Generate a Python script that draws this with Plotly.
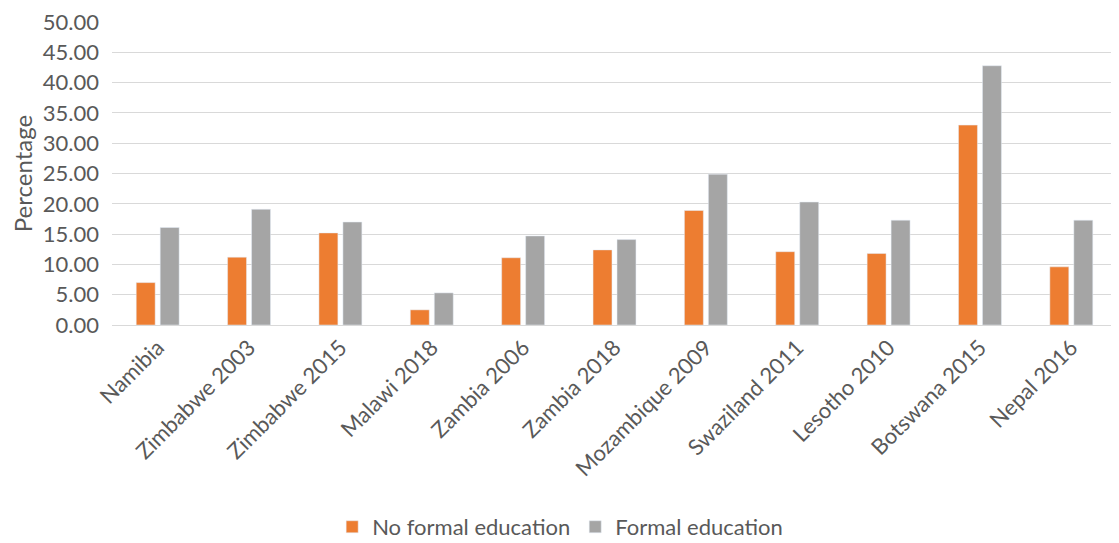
import plotly.graph_objects as go

categories = ["Namibia", "Zimbabwe 2003", "Zimbabwe 2015", "Malawi 2018", "Zambia 2006",
              "Zambia 2018", "Mozambique 2009", "Swaziland 2011", "Lesotho 2010",
              "Botswana 2015", "Nepal 2016"]
no_formal = [7.0, 11.2, 15.2, 2.5, 11.1, 12.4, 18.9, 12.1, 11.8, 33.0, 9.6]
formal = [16.1, 19.1, 17.0, 5.3, 14.7, 14.1, 24.9, 20.3, 17.3, 42.8, 17.3]
y_ticks = [0, 5, 10, 15, 20, 25, 30, 35, 40, 45, 50]

font = "Lato, 'Open Sans', sans-serif"
text_col = "#595959"

fig = go.Figure()
fig.add_trace(go.Bar(x=categories, y=no_formal, name="No formal education",
                     marker=dict(color="#ED7D31")))
fig.add_trace(go.Bar(x=categories, y=formal, name="Formal education",
                     marker=dict(color="#A5A5A5")))

# page body has an 8px margin, so the figure is 8px smaller each way
fig.update_layout(
    width=1111, height=535,
    margin=dict(l=104, r=2, t=14, b=218),
    plot_bgcolor="white", paper_bgcolor="white",
    barmode="group", bargap=0.475, bargroupgap=0.21,
    font=dict(family=font, size=22, color=text_col),
    legend=dict(orientation="h", xref="container", yref="container",
                x=0.497, xanchor="center", y=0.03, yanchor="middle",
                font=dict(size=22, color=text_col), itemwidth=30,
                traceorder="normal"),
)
fig.update_xaxes(tickangle=-45, tickfont=dict(size=22, color=text_col), automargin=False,
                 showline=True, linecolor="#d9d9d9", linewidth=1, ticks="")
fig.update_yaxes(range=[0, 50.02], tickvals=y_ticks, automargin=False,
                 ticktext=[f"{v:.2f}" for v in y_ticks], ticklabeloverflow="allow",
                 showgrid=True, gridcolor="#d9d9d9", gridwidth=1,
                 zeroline=False, ticklabelstandoff=12,
                 title=dict(text="Percentage", font=dict(size=24, color=text_col),
                            standoff=12),
                 tickfont=dict(size=22, color=text_col))

fig.write_html("out.html")
